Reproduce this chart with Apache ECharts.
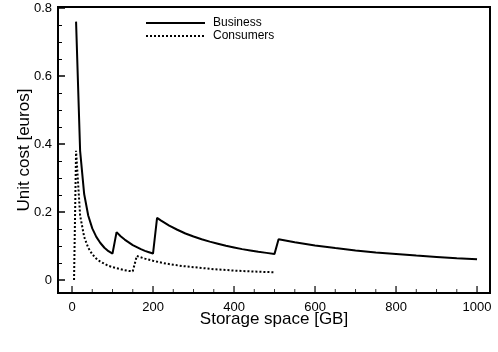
<!DOCTYPE html>
<html>
<head>
<meta charset="utf-8">
<script src="https://cdn.jsdelivr.net/npm/echarts@6/dist/echarts.min.js"></script>
<style>
  html, body { margin: 0; padding: 0; background: #fff; }
  #chart { width: 498px; height: 352px; }
</style>
</head>
<body>
<div id="chart"></div>
<script>
// values (x in GB, y in euros)
const businessX = [10, 20, 30, 40, 50, 60, 70, 80, 90, 100,
  110, 120, 130, 140, 150, 160, 170, 180, 190, 200,
  210, 220, 240, 260, 280, 300, 320, 340, 360, 380, 400, 420, 440, 460, 480, 500,
  510, 550, 600, 650, 700, 750, 800, 850, 900, 950, 1000]
const businessY = [0.76, 0.38, 0.253, 0.19, 0.152, 0.127, 0.109, 0.095, 0.085, 0.078,
  0.141, 0.129, 0.119, 0.111, 0.103, 0.097, 0.091, 0.086, 0.082, 0.078,
  0.183, 0.175, 0.16, 0.148, 0.137, 0.128, 0.12, 0.113, 0.107, 0.101, 0.096, 0.091, 0.087, 0.083, 0.08, 0.077,
  0.12, 0.111, 0.102, 0.094, 0.087, 0.081, 0.077, 0.072, 0.068, 0.064, 0.061]

const consumerX = [5, 10, 20, 30, 40, 50, 60, 70, 80, 90, 100, 110, 120, 130, 140, 150,
  160, 180, 200, 225, 250, 275, 300, 350, 400, 450, 500]
const consumerY = [0, 0.38, 0.19, 0.127, 0.095, 0.076, 0.063, 0.054, 0.048, 0.042, 0.038, 0.035, 0.032, 0.029, 0.027, 0.026,
  0.071, 0.063, 0.057, 0.05, 0.045, 0.041, 0.038, 0.032, 0.028, 0.025, 0.023]

// tick positions
const xMajorTicks = [0, 200, 400, 600, 800, 1000]
const xMinorTicks = [50, 100, 150, 250, 300, 350, 450, 500, 550, 650, 700, 750, 850, 900, 950]
const yMajorTicks = [0, 0.2, 0.4, 0.6, 0.8]
const yMinorTicks = [0.05, 0.1, 0.15, 0.25, 0.3, 0.35, 0.45, 0.5, 0.55, 0.65, 0.7, 0.75]

// axis ranges (frame sits a little outside the tick range)
const xRange = [-34.6, 1032]
const yRange = [-0.038, 0.803]

const font = '"Liberation Sans", Arial, Helvetica, sans-serif'

const zip = (xs, ys) => xs.map((x, i) => [x, ys[i]])
// x ticks sit on the bottom frame, i.e. at the y-axis minimum
const onBottom = xs => xs.map(x => [x, yRange[0]])

const gridBox = { left: 58, right: 8, top: 7, bottom: 59 }

function axis(range, gridIndex, extra) {
  return Object.assign({
    type: 'value',
    gridIndex: gridIndex,
    min: range[0],
    max: range[1],
    axisLine: { show: false, onZero: false },
    axisTick: { show: false },
    axisLabel: { show: false },
    splitLine: { show: false }
  }, extra)
}

function tickMarks(xs, len, width) {
  return {
    type: 'scatter',
    xAxisIndex: 0,
    yAxisIndex: 0,
    silent: true,
    clip: false,
    z: 5,
    symbol: 'rect',
    symbolSize: [width, len],
    symbolOffset: [0, -len / 2],
    itemStyle: { color: '#000' },
    data: onBottom(xs)
  }
}

const chart = echarts.init(document.getElementById('chart'))

chart.setOption({
  animation: false,
  legend: {
    orient: 'vertical',
    left: 145,
    top: 17,
    padding: 0,
    itemWidth: 59,
    itemHeight: 13,
    itemGap: 1,
    itemStyle: { opacity: 0 },
    textStyle: { fontFamily: font, fontSize: 12, color: '#000', padding: [0, 0, 0, 3] },
    data: ['Business', 'Consumers']
  },
  grid: [
    Object.assign({ show: true, borderColor: '#000', borderWidth: 2, backgroundColor: 'transparent' }, gridBox),
    Object.assign({ show: false }, gridBox)
  ],
  xAxis: [
    axis(xRange, 0, {
      position: 'bottom',
      name: 'Storage space [GB]',
      nameLocation: 'middle',
      nameGap: 18,
      nameMoveOverlap: false,
      nameTextStyle: { fontFamily: font, fontSize: 17, color: '#000' },
      axisLabel: {
        show: true, fontFamily: font, fontSize: 13, color: '#000', margin: 8,
        customValues: xMajorTicks,
        formatter: v => String(v)
      }
    }),
    axis(xRange, 1, { position: 'bottom' })
  ],
  yAxis: [
    axis(yRange, 0, {
      position: 'left',
      name: 'Unit cost [euros]',
      nameLocation: 'middle',
      nameGap: 25,
      nameMoveOverlap: false,
      nameTextStyle: { fontFamily: font, fontSize: 17, color: '#000' },
      axisTick: { show: true, inside: true, length: 7, customValues: yMajorTicks, lineStyle: { color: '#000', width: 1.5 } },
      axisLabel: {
        show: true, fontFamily: font, fontSize: 13, color: '#000', margin: 6,
        customValues: yMajorTicks,
        formatter: v => (v === 0 ? '0' : String(Math.round(v * 10) / 10))
      }
    }),
    axis(yRange, 1, {
      position: 'left',
      axisTick: { show: true, inside: true, length: 4, customValues: yMinorTicks, lineStyle: { color: '#000', width: 1 } }
    })
  ],
  series: [{
    name: 'Business',
    type: 'line',
    xAxisIndex: 0,
    yAxisIndex: 0,
    symbol: 'none',
    lineStyle: { color: '#000', width: 2 },
    itemStyle: { color: '#000' },
    data: zip(businessX, businessY)
  }, {
    name: 'Consumers',
    type: 'line',
    xAxisIndex: 0,
    yAxisIndex: 0,
    symbol: 'none',
    lineStyle: { color: '#000', width: 2, type: [2, 2] },
    itemStyle: { color: '#000' },
    data: zip(consumerX, consumerY)
  },
  tickMarks(xMajorTicks, 7, 1.5),
  tickMarks(xMinorTicks, 4, 1)]
})
</script>
</body>
</html>
